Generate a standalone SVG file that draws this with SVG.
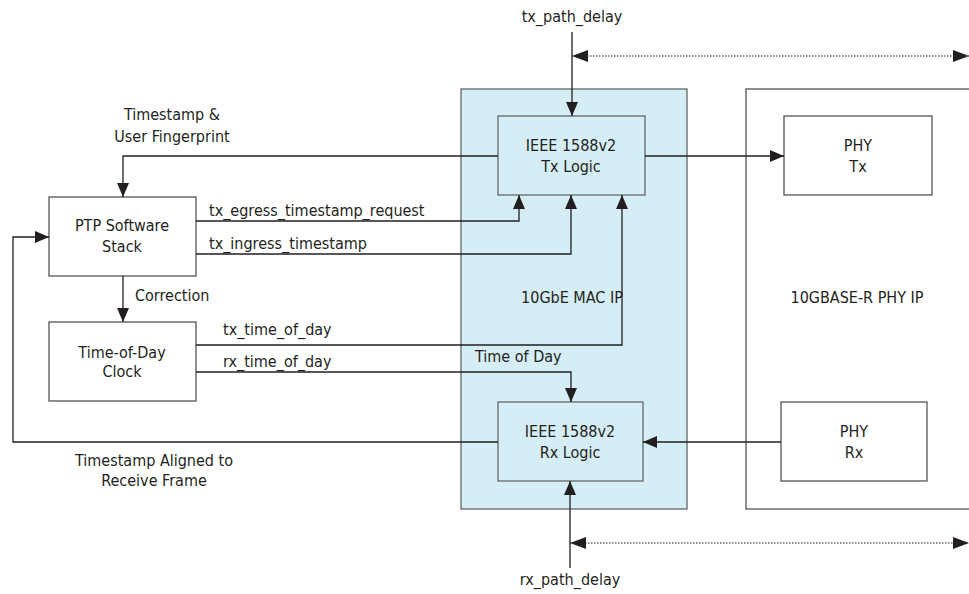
<svg xmlns="http://www.w3.org/2000/svg" width="969" height="594" viewBox="0 0 969 594">
<style>
text{font-family:"Liberation Sans Narrow","DejaVu Sans Condensed","Liberation Sans",sans-serif;font-size:16px;fill:#231f20}
.c{text-anchor:middle}
.box{fill:#fff;stroke:#555;stroke-width:1.3}
.blue{fill:#d5edf4;stroke:#666;stroke-width:1.3}
.ln{fill:none;stroke:#231f20;stroke-width:1.3}
.dot{fill:none;stroke:#231f20;stroke-width:1.2;stroke-dasharray:1.5 1.5}
</style>
<defs>
<marker id="a" viewBox="0 0 14 12" refX="14" refY="6" markerWidth="14" markerHeight="12" markerUnits="userSpaceOnUse" orient="auto"><path d="M0,0L14,6L0,12z" fill="#231f20"/></marker>
<marker id="d" viewBox="0 0 16 12" refX="16" refY="6" markerWidth="16" markerHeight="12" markerUnits="userSpaceOnUse" orient="auto"><path d="M0,0L16,6L0,12z" fill="#231f20"/></marker>
<marker id="ds" viewBox="0 0 16 12" refX="0" refY="6" markerWidth="16" markerHeight="12" markerUnits="userSpaceOnUse" orient="auto"><path d="M16,0L0,6L16,12z" fill="#231f20"/></marker>
</defs>
<g id="mac"><rect class="blue" x="461" y="89" width="226" height="420"/><text class="c" x="572" y="303">10GbE MAC IP</text></g>
<g id="phyip"><rect class="box" x="746" y="89" width="240" height="420"/><text class="c" x="857" y="303">10GBASE-R PHY IP</text></g>
<g id="txlogic"><rect class="blue" x="498" y="116" width="147" height="79"/><text class="c" x="571" y="151">IEEE 1588v2</text><text class="c" x="571" y="172">Tx Logic</text></g>
<g id="rxlogic"><rect class="blue" x="498" y="402" width="145" height="79"/><text class="c" x="570" y="437">IEEE 1588v2</text><text class="c" x="570" y="458">Rx Logic</text></g>
<g id="phytx"><rect class="box" x="784" y="116" width="148" height="79"/><text class="c" x="858" y="151">PHY</text><text class="c" x="858" y="172">Tx</text></g>
<g id="phyrx"><rect class="box" x="781" y="402" width="146" height="79"/><text class="c" x="854" y="437">PHY</text><text class="c" x="854" y="458">Rx</text></g>
<g id="ptp"><rect class="box" x="49" y="197" width="147" height="79"/><text class="c" x="122" y="231">PTP Software</text><text class="c" x="122" y="252">Stack</text></g>
<g id="tod"><rect class="box" x="49" y="322" width="147" height="79"/><text class="c" x="122" y="358">Time-of-Day</text><text class="c" x="122" y="377">Clock</text></g>
<g id="connectors">
<path class="ln" d="M572,32V116" marker-end="url(#a)"/>
<path class="dot" d="M572,56H969" marker-start="url(#ds)" marker-end="url(#d)"/>
<path class="ln" d="M645,156H784" marker-end="url(#a)"/>
<path class="ln" d="M498,156H123V197" marker-end="url(#a)"/>
<path class="ln" d="M196,221H519V195" marker-end="url(#a)"/>
<path class="ln" d="M196,254H571V195" marker-end="url(#a)"/>
<path class="ln" d="M123,276V322" marker-end="url(#a)"/>
<path class="ln" d="M196,345H622V195" marker-end="url(#a)"/>
<path class="ln" d="M196,372H571V402" marker-end="url(#a)"/>
<path class="ln" d="M781,442H643" marker-end="url(#a)"/>
<path class="ln" d="M498,442H13V237H49" marker-end="url(#a)"/>
<path class="ln" d="M570,568V481" marker-end="url(#a)"/>
<path class="dot" d="M570,543H969" marker-start="url(#ds)" marker-end="url(#d)"/>
<text class="c" x="572" y="22">tx_path_delay</text>
<text class="c" x="570" y="585">rx_path_delay</text>
<text class="c" x="172" y="120">Timestamp &amp;</text>
<text class="c" x="172" y="142">User Fingerprint</text>
<text x="209" y="216">tx_egress_timestamp_request</text>
<text x="209" y="249">tx_ingress_timestamp</text>
<text x="135" y="301">Correction</text>
<text x="223" y="335">tx_time_of_day</text>
<text x="223" y="367">rx_time_of_day</text>
<text x="475" y="362">Time of Day</text>
<text class="c" x="154" y="466">Timestamp Aligned to</text>
<text class="c" x="154" y="486">Receive Frame</text>
</g>
</svg>
